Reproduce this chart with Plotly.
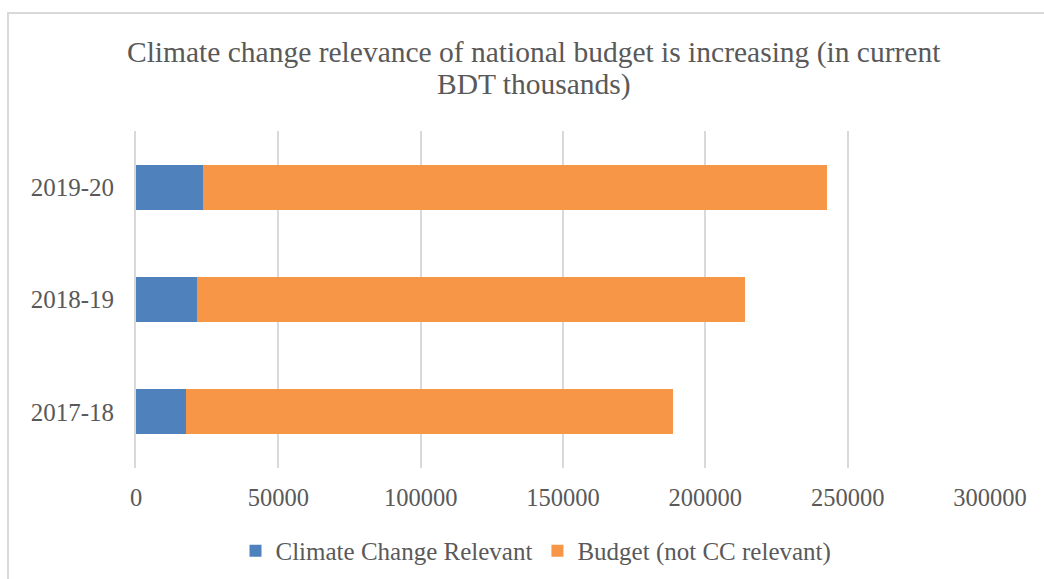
import plotly.graph_objects as go

categories = ["2017-18", "2018-19", "2019-20"]
cc_relevant = [17600, 21300, 23700]
not_cc_relevant = [171200, 192650, 219200]
x_ticks = [0, 50000, 100000, 150000, 200000, 250000, 300000]
title_lines = ["Climate change relevance of national budget is increasing (in current",
               "BDT thousands)"]

FONT = "Liberation Serif"
GREY = "#595959"

fig = go.Figure()
fig.add_trace(go.Bar(y=categories, x=cc_relevant, orientation="h",
                     name="Climate Change Relevant", marker=dict(color="#4F81BD", line=dict(width=0))))
fig.add_trace(go.Bar(y=categories, x=not_cc_relevant, orientation="h",
                     name="Budget (not CC relevant)", marker=dict(color="#F79646", line=dict(width=0))))

PLOT_TOP, PLOT_H, PLOT_L, PLOT_W = 131, 337, 136, 854
annotations = []
for text, py in zip(title_lines, [52, 85]):
    annotations.append(dict(text=text, xref="paper", yref="paper",
                            x=(534 - PLOT_L) / PLOT_W, y=1 + (PLOT_TOP - py) / PLOT_H,
                            xanchor="center", yanchor="middle", showarrow=False,
                            font=dict(family=FONT, size=29.5, color=GREY)))

fig.update_layout(
    width=1044, height=579, autosize=False,
    barmode="stack", bargap=0.6,
    paper_bgcolor="white", plot_bgcolor="white",
    margin=dict(l=136, r=54, t=131, b=111, autoexpand=False),
    font=dict(family=FONT, color=GREY, size=24),
    annotations=annotations,
    xaxis=dict(range=[0, 300000], tickvals=x_ticks, ticktext=[str(v) for v in x_ticks],
               showgrid=True, gridcolor="#D9D9D9", gridwidth=2, zeroline=False,
               showline=False, ticks="", ticklabelstandoff=12, tickangle=0, automargin=False,
               tickfont=dict(family=FONT, size=24.5, color=GREY)),
    yaxis=dict(showline=True, linecolor="#D9D9D9", linewidth=2, ticks="", automargin=False,
               ticklabelstandoff=15, tickfont=dict(family=FONT, size=25, color=GREY)),
    legend=dict(orientation="h", x=(536-136)/854, xanchor="center",
                y=-0.246, yanchor="middle", font=dict(family=FONT, size=25, color=GREY),
                itemwidth=30, traceorder="normal"),
    shapes=[dict(type="rect", xref="paper", yref="paper",
                 x0=(8-136)/854, x1=2, y0=-1, y1=1+(131-13)/337,
                 line=dict(color="#D9D9D9", width=2), layer="below")],
)

fig.write_html("out.html")
